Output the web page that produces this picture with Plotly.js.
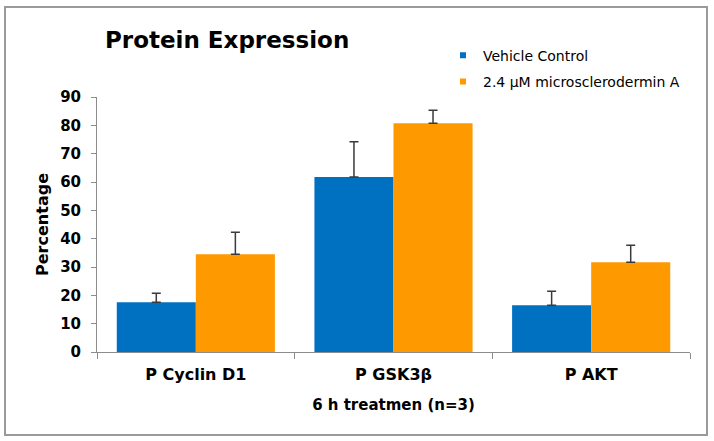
<!DOCTYPE html>
<html><head><meta charset="utf-8">
<script src="https://cdn.plot.ly/plotly-3.0.1.min.js"></script>
<style>
body{margin:0;padding:0;background:#fff;}
#wrap{position:relative;width:714px;height:441px;}
#chart{position:absolute;left:0;top:0;width:714px;height:441px;}
#frame{position:absolute;left:4px;top:6px;width:700px;height:426px;border:2px solid #9a9a9a;pointer-events:none;}
</style></head>
<body>
<div id="wrap"><div id="chart"></div><div id="frame"></div></div>
<script>
const categories = ["P Cyclin D1", "P GSK3β", "P AKT"];
const seriesNames = ["Vehicle Control", "2.4 µM microsclerodermin A"];
const vehicle = [17.6, 61.8, 16.5];
const vehicleErr = [3.1, 12.4, 4.9];
const treated = [34.5, 80.7, 31.7];
const treatedErr = [7.8, 4.6, 6.0];
const yTicks = [0, 10, 20, 30, 40, 50, 60, 70, 80, 90];
const colors = ["#0070C0", "#FF9900"];

const font = "DejaVu Sans, sans-serif";
const errStyle = (arr) => ({type: "data", array: arr, arrayminus: arr.map(() => 0), symmetric: false,
  color: "#3a3a3a", thickness: 1.5, width: 4.5});

const traces = [
  {type: "bar", name: seriesNames[0], x: categories, y: vehicle, marker: {color: colors[0]},
   error_y: errStyle(vehicleErr), showlegend: false},
  {type: "bar", name: seriesNames[1], x: categories, y: treated, marker: {color: colors[1]},
   error_y: errStyle(treatedErr), showlegend: false},
  // legend entries (small square keys, as in the original)
  {type: "scatter", mode: "markers", name: seriesNames[0], x: [null], y: [null], legendgroup: "a",
   marker: {symbol: "square", size: 6, color: colors[0]}, hoverinfo: "skip"},
  {type: "scatter", mode: "markers", name: seriesNames[1], x: [null], y: [null], legendgroup: "b",
   marker: {symbol: "square", size: 6, color: colors[1]}, hoverinfo: "skip"}
];

const layout = {
  width: 714, height: 441,
  margin: {l: 97, r: 24, t: 97, b: 89},
  paper_bgcolor: "#fff", plot_bgcolor: "#fff",
  font: {family: font, color: "#000"},
  barmode: "group", bargap: 0.2, bargroupgap: 0,
  title: {text: "Protein Expression", font: {size: 23, family: font, color: "#000", weight: "bold"},
          x: 105 / 714, xanchor: "left", y: 1 - 40 / 441, yanchor: "middle"},
  showlegend: true,
  legend: {x: (443 - 97) / 593, xanchor: "left", y: 1.225, yanchor: "top",
           font: {size: 14, family: font, color: "#000"}, tracegroupgap: 5, traceorder: "grouped",
           itemwidth: 30, bgcolor: "rgba(0,0,0,0)"},
  xaxis: {
    type: "category", showline: true, linecolor: "#8c8c8c", linewidth: 1,
    ticks: "outside", tickson: "boundaries", ticklen: 6, tickcolor: "#8c8c8c",
    tickfont: {size: 16, family: font, color: "#000", weight: "bold"},
    ticklabelstandoff: 8,
    showgrid: false, zeroline: false,
    title: {text: "6 h treatmen (n=3)", font: {size: 15, family: font, color: "#000", weight: "bold"}, standoff: 16}
  },
  yaxis: {
    range: [0, 90], tickvals: yTicks,
    showline: true, linecolor: "#8c8c8c", linewidth: 1,
    ticks: "outside", ticklen: 5, tickcolor: "#8c8c8c",
    tickfont: {size: 15, family: font, color: "#000", weight: "bold"},
    ticklabelstandoff: 7,
    showgrid: false, zeroline: false,
    title: {text: "Percentage", font: {size: 16, family: font, color: "#000", weight: "bold"}, standoff: 7}
  }
};

Plotly.newPlot("chart", traces, layout, {displayModeBar: false, staticPlot: true});
</script>
</body></html>
